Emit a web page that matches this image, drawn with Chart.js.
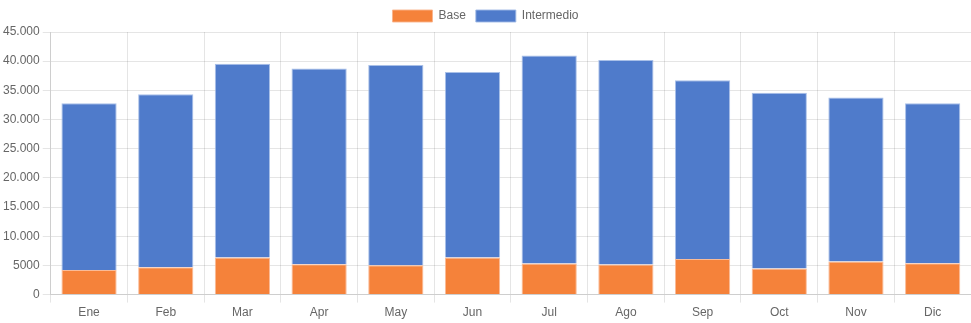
<!DOCTYPE html>
<html lang="es">
<head>
<meta charset="utf-8">
<script src="https://cdn.jsdelivr.net/npm/chart.js@4"></script>
<style>
  html, body { margin: 0; padding: 0; background: #fff; }
  #wrap { width: 971px; height: 323px; }
</style>
</head>
<body>
<div id="wrap"><canvas id="ventasChart"></canvas></div>
<script>
// Datos por mes
const meses = ['Ene', 'Feb', 'Mar', 'Apr', 'May', 'Jun', 'Jul', 'Ago', 'Sep', 'Oct', 'Nov', 'Dic'];
const base = [4230, 4690, 6350, 5200, 5030, 6350, 5320, 5150, 6110, 4470, 5670, 5380];
const intermedio = [28570, 29660, 33200, 33550, 34300, 31780, 35660, 35050, 30640, 30110, 28100, 27420];

Chart.defaults.font.family = '"Liberation Sans", Arial, sans-serif';
Chart.defaults.font.size = 12;
Chart.defaults.color = '#666';

const ctx = document.getElementById('ventasChart').getContext('2d');
new Chart(ctx, {
  type: 'bar',
  data: {
    labels: meses,
    datasets: [
      {
        label: 'Base',
        data: base,
        backgroundColor: '#f5823a',
        borderColor: 'rgba(250, 180, 140, 0.9)',
        borderWidth: 1
      },
      {
        label: 'Intermedio',
        data: intermedio,
        backgroundColor: '#4f7bcb',
        borderColor: 'rgba(160, 185, 230, 0.9)',
        borderWidth: 1
      }
    ]
  },
  options: {
    responsive: true,
    maintainAspectRatio: false,
    animation: false,
    locale: 'es-ES',
    plugins: {
      legend: {
        labels: { boxWidth: 40, boxHeight: 12 }
      },
      tooltip: { enabled: false }
    },
    scales: {
      x: {
        stacked: true,
        grid: { color: 'rgba(0,0,0,0.1)' }
      },
      y: {
        stacked: true,
        beginAtZero: true,
        max: 45000,
        ticks: { stepSize: 5000 },
        grid: { color: 'rgba(0,0,0,0.1)' }
      }
    }
  }
});
</script>
</body>
</html>
